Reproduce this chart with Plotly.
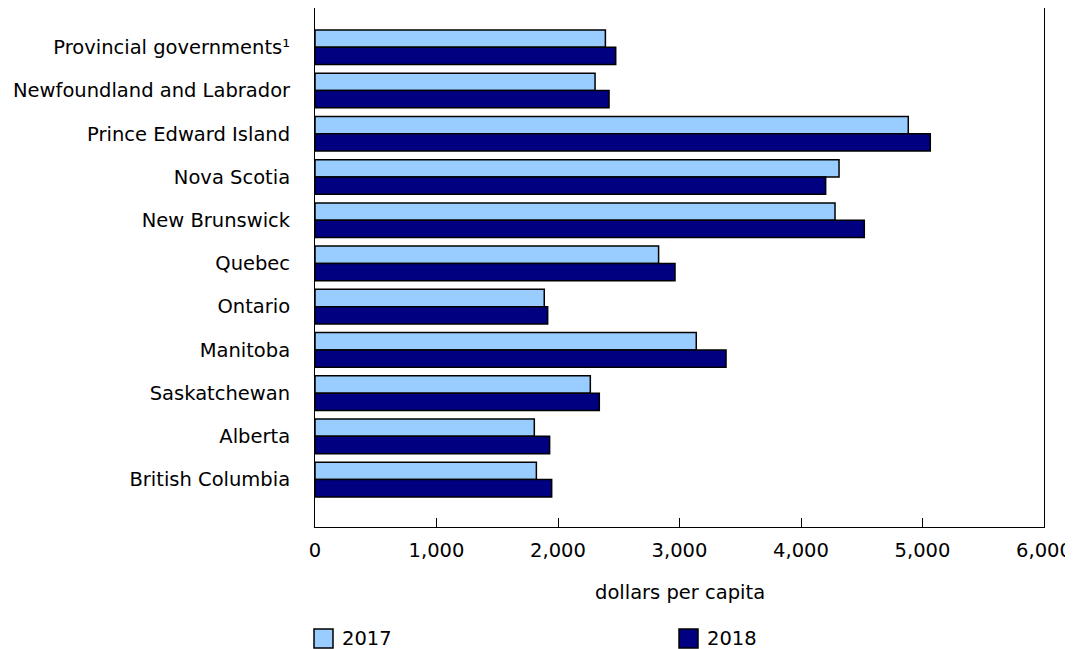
import plotly.graph_objects as go

categories = ["Provincial governments¹", "Newfoundland and Labrador", "Prince Edward Island",
              "Nova Scotia", "New Brunswick", "Quebec", "Ontario", "Manitoba",
              "Saskatchewan", "Alberta", "British Columbia"]
values_2017 = [2390, 2305, 4883, 4313, 4280, 2828, 1887, 3138, 2266, 1805, 1822]
values_2018 = [2475, 2420, 5064, 4203, 4521, 2963, 1915, 3383, 2340, 1931, 1948]
series_names = ["2017", "2018"]
series_colors = ["#99CCFF", "#000080"]
x_ticks = [0, 1000, 2000, 3000, 4000, 5000, 6000]
x_ticktext = ["0", "1,000", "2,000", "3,000", "4,000", "5,000", "6,000"]

FONT = "DejaVu Sans, Verdana, sans-serif"
FS = 19.5

# plot-area geometry (figure pixels)
L, R, T, B = 307, 37, 0, 130
W, H = 1073, 649
PW, PH = W - L - R, H - T - B

def px_x(X):
    return (X - L) / PW

def px_y(Y):
    return (H - B - Y) / PH

fig = go.Figure()
for name, vals, col in zip(series_names, [values_2017, values_2018], series_colors):
    fig.add_trace(go.Bar(y=categories, x=vals, orientation="h", name=name,
                         marker=dict(color=col, line=dict(color="#000000", width=1.5))))

# manual legend
legend_box_x = [306, 671]
shapes = []
annotations = []
for bx, name, col in zip(legend_box_x, series_names, series_colors):
    shapes.append(dict(type="rect", xref="paper", yref="paper",
                       x0=px_x(bx), x1=px_x(bx + 19), y0=px_y(621), y1=px_y(640),
                       fillcolor=col, line=dict(color="#000000", width=1.5)))
    annotations.append(dict(text=name, xref="paper", yref="paper",
                            x=px_x(bx + 26), y=px_y(630.5), xanchor="left", yanchor="middle",
                            showarrow=False, font=dict(size=FS, family=FONT, color="#000000")))

annotations.append(dict(text="dollars per capita", xref="paper", yref="paper",
                        x=0.5, y=px_y(584), xanchor="center", yanchor="middle",
                        showarrow=False, font=dict(size=FS, family=FONT, color="#000000")))

fig.update_layout(
    width=W, height=H,
    barmode="group", bargap=0.2, bargroupgap=0,
    plot_bgcolor="white", paper_bgcolor="white",
    font=dict(family=FONT, size=FS, color="#000000"),
    margin=dict(l=L, r=R, t=T, b=B, pad=0),
    showlegend=False,
    shapes=shapes,
    annotations=annotations,
    xaxis=dict(range=[0, 6000], tickvals=x_ticks, ticktext=x_ticktext,
               ticks="inside", ticklen=9, tickcolor="#000000", tickwidth=1,
               showline=True, linecolor="#000000", linewidth=1, mirror=True,
               showgrid=False, zeroline=False, automargin=False,
               ticklabelstandoff=6),
    yaxis=dict(type="category", categoryorder="array", categoryarray=categories,
               range=[11.096, -0.907], ticks="", showline=True, linecolor="#000000",
               linewidth=1, mirror=True, showgrid=False, automargin=False,
               ticklabelstandoff=20),
)

fig.write_html("out.html")
